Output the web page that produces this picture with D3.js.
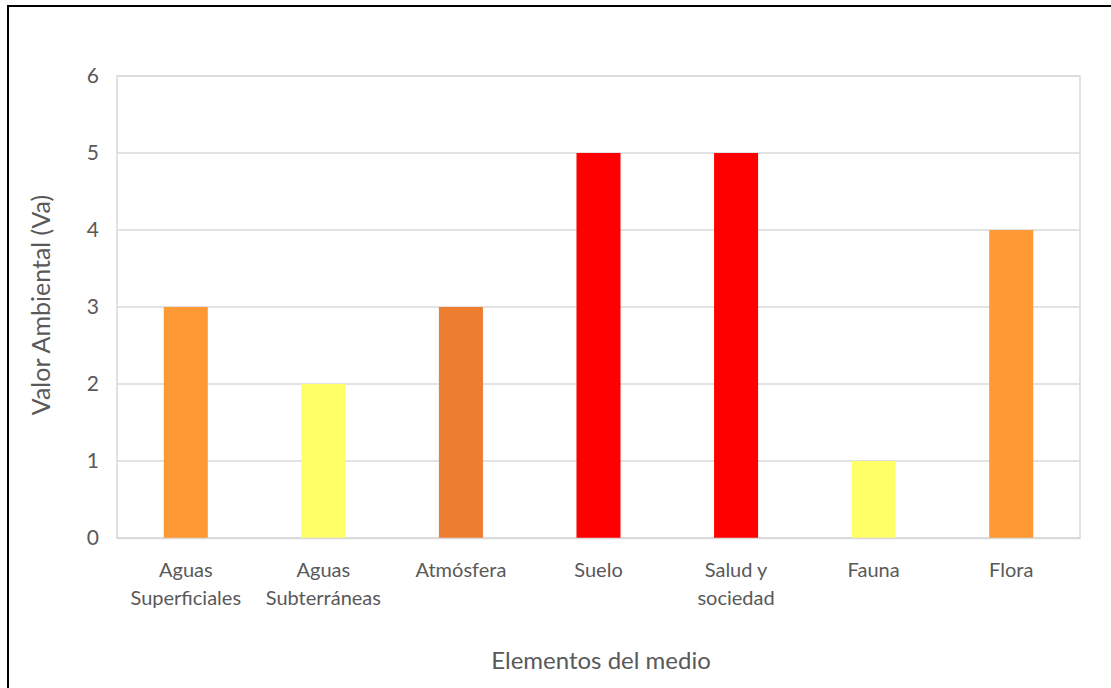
<!DOCTYPE html>
<html>
<head>
<meta charset="utf-8">
<script src="https://cdn.jsdelivr.net/npm/d3@7/dist/d3.min.js"></script>
<style>
  html, body { margin: 0; padding: 0; background: #fff; }
  svg { display: block; }
  text { font-family: Lato, "Open Sans", sans-serif; fill: #595959; }
</style>
</head>
<body>
<svg id="chart" width="1111" height="688"></svg>
<script>
// Valor ambiental por elemento del medio
const categories = [
  ["Aguas", "Superficiales"],
  ["Aguas", "Subterráneas"],
  ["Atmósfera"],
  ["Suelo"],
  ["Salud y", "sociedad"],
  ["Fauna"],
  ["Flora"]
];
const values = [3, 2, 3, 5, 5, 1, 4];
const barColors = ["#FF9933", "#FFFF66", "#ED7D31", "#FF0000", "#FF0000", "#FFFF66", "#FF9933"];
const yTicks = [0, 1, 2, 3, 4, 5, 6];
const xTitle = "Elementos del medio";
const yTitle = "Valor Ambiental (Va)";

const svg = d3.select("#chart");

// outer frame
svg.append("rect")
  .attr("x", 8).attr("y", 6)
  .attr("width", 1120).attr("height", 700)
  .attr("fill", "none").attr("stroke", "#000").attr("stroke-width", 2);

const plot = { left: 117, right: 1080, top: 76, bottom: 538 };

const x = d3.scaleBand()
  .domain(d3.range(categories.length))
  .range([plot.left, plot.right])
  .paddingInner(0.68).paddingOuter(0.34);

const y = d3.scaleLinear().domain([0, 6]).range([plot.bottom, plot.top]);

// gridlines
svg.append("g")
  .selectAll("line")
  .data(yTicks)
  .join("line")
  .attr("x1", plot.left).attr("x2", plot.right)
  .attr("y1", d => y(d)).attr("y2", d => y(d))
  .attr("stroke", "#D9D9D9").attr("stroke-width", 1.5);

// plot frame
svg.append("rect")
  .attr("x", plot.left).attr("y", plot.top)
  .attr("width", plot.right - plot.left).attr("height", plot.bottom - plot.top)
  .attr("fill", "none").attr("stroke", "#D9D9D9").attr("stroke-width", 1.5);

// bars
svg.append("g")
  .selectAll("rect")
  .data(values)
  .join("rect")
  .attr("x", (d, i) => x(i))
  .attr("width", x.bandwidth())
  .attr("y", d => y(d))
  .attr("height", d => y(0) - y(d))
  .attr("fill", (d, i) => barColors[i]);

// y axis
const yAxis = svg.append("g")
  .attr("transform", `translate(${plot.left},0)`)
  .call(d3.axisLeft(y).tickValues(yTicks).tickSize(0).tickPadding(18).tickFormat(d3.format("d")));
yAxis.select(".domain").remove();
yAxis.selectAll("text").style("font-size", "21px").attr("fill", "#595959")
  .style("font-family", "Lato, 'Open Sans', sans-serif");

// x axis labels
const xAxis = svg.append("g")
  .attr("transform", `translate(0,${plot.bottom})`)
  .call(d3.axisBottom(x).tickSize(0).tickFormat(""));
xAxis.select(".domain").attr("stroke", "#D9D9D9").attr("stroke-width", 1.5);
xAxis.selectAll(".tick").each(function(d) {
  const t = d3.select(this).append("text")
    .attr("text-anchor", "middle")
    .attr("fill", "#595959")
    .style("font-size", "20px")
    .style("font-family", "Lato, 'Open Sans', sans-serif");
  categories[d].forEach((line, k) => {
    t.append("tspan").attr("x", 0).attr("y", 39 + k * 28).text(line);
  });
});

// axis titles
svg.append("text")
  .attr("x", 601).attr("y", 669)
  .attr("text-anchor", "middle")
  .style("font-size", "24px")
  .text(xTitle);

svg.append("text")
  .attr("transform", `translate(50,305) rotate(-90)`)
  .attr("text-anchor", "middle")
  .style("font-size", "25px")
  .text(yTitle);
</script>
</body>
</html>
